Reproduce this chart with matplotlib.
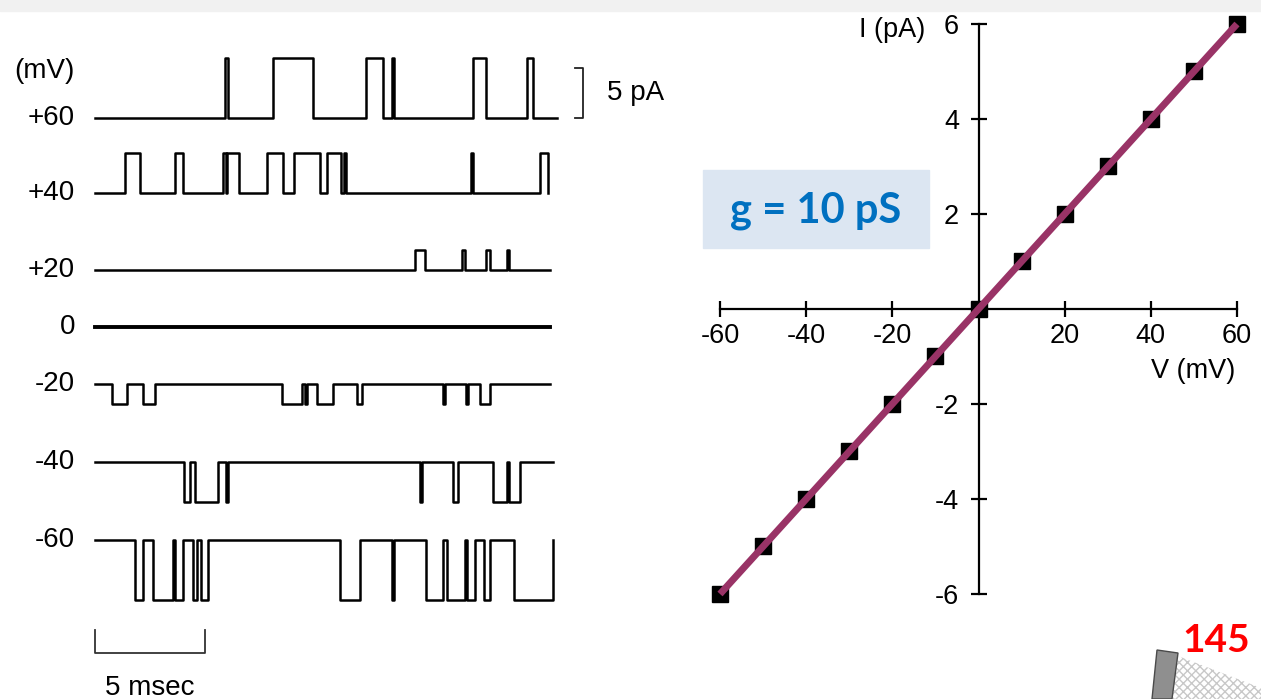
import numpy as np
import matplotlib.pyplot as plt
from matplotlib.patches import Rectangle, Polygon

plt.rcParams['font.family'] = ['Liberation Sans', 'DejaVu Sans']
plt.rcParams['axes.unicode_minus'] = False

W, H = 1261, 699

# single-channel traces: holding potential, label, unitary current (pA)
trace_labels = ['+60', '+40', '+20', '0', '-20', '-40', '-60']
unit_current = [6, 4, 2, 0, -2, -4, -6]
trace_end = [21.0, 20.6, 20.7, 20.7, 20.7, 20.8, 20.8]  # ms

# open intervals (start, end) in ms
open_60 = [(5.91, 6.05), (8.09, 9.91), (12.32, 13.09), (13.5, 13.59),
           (17.18, 17.77), (19.64, 19.91)]
open_40 = [(1.36, 2.05), (3.64, 4.0), (5.82, 5.95), (6.0, 6.55), (7.82, 8.55),
           (9.05, 10.23), (10.55, 11.18), (11.32, 11.41), (17.09, 17.18),
           (20.23, 20.6)]
open_20 = [(14.55, 15.0), (16.68, 16.82), (17.77, 17.95), (18.73, 18.82)]
open_0 = []
open_m20 = [(0.77, 1.45), (2.18, 2.73), (8.5, 9.41), (9.55, 9.64),
            (10.09, 10.82), (11.91, 12.14), (15.82, 15.91), (16.86, 16.95),
            (17.5, 17.95)]
open_m40 = [(4.05, 4.32), (4.55, 5.59), (5.95, 6.05), (14.77, 14.86),
            (16.27, 16.5), (18.09, 18.73), (18.82, 19.32)]
open_m60 = [(1.82, 2.18), (2.64, 3.55), (3.64, 4.0), (4.45, 4.64),
            (4.82, 5.14), (11.14, 12.05), (13.5, 13.59), (15.05, 15.82),
            (16.0, 16.82), (16.91, 17.27), (17.68, 17.95), (19.05, 20.8)]
openings = [open_60, open_40, open_20, open_0, open_m20, open_m40, open_m60]

# I-V relation
iv_voltage = [-60, -50, -40, -30, -20, -10, 0, 10, 20, 30, 40, 50, 60]
iv_current = [-6, -5, -4, -3, -2, -1, 0, 1, 2, 3, 4, 5, 6]


def step_trace(intervals, t_end, amp):
    t, y = [0.0], [0.0]
    for a, b in intervals:
        t += [a, a, b, b]
        y += [0, amp, amp, 0]
    t.append(t_end)
    y.append(0)
    return np.array(t), np.array(y)


fig = plt.figure(figsize=(W / 100, H / 100), dpi=100)

# faint scan band on top
fig.patches.append(Rectangle((0, 1 - 11 / H), 1, 11 / H, transform=fig.transFigure,
                             color='#f1f1f1', zorder=-5))

# ---- left: traces (x in ms, y in pA) ----
px2t = lambda px: (px - 95) / 22.0
py2i = lambda py: -(py - 118) / 10.0
axL = fig.add_axes([0, 0, 680 / W, 1])
axL.set_xlim(px2t(0), px2t(680))
axL.set_ylim(py2i(H), py2i(0))
axL.axis('off')

row_pix = [118, 193, 270, 327, 384, 462, 540]
for lab, amp, tend, ivs, rp in zip(trace_labels, unit_current, trace_end, openings, row_pix):
    base = py2i(rp)
    t, y = step_trace(ivs, tend, amp)
    axL.plot(t, base + y, color='black', lw=2.8 if amp == 0 else 1.8)
    axL.text(px2t(75), base, lab, ha='right', va='center', fontsize=20)

axL.text(px2t(75), py2i(71), '(mV)', ha='right', va='center', fontsize=20)

# 5 pA bar
axL.plot([px2t(575), px2t(583), px2t(583), px2t(575)], [5, 5, 0, 0],
         color='#222222', lw=1.3)
axL.text(px2t(607), 2.5, '5 pA', ha='left', va='center', fontsize=20)
# 5 msec bar
axL.plot([0, 0, 5, 5], [py2i(630), py2i(653), py2i(653), py2i(630)],
         color='#333333', lw=1.3)
axL.text(2.5, py2i(688), '5 msec', ha='center', va='center', fontsize=20)

# ---- right: I-V plot ----
axR = fig.add_axes([720 / W, 1 - 594 / H, (1237 - 720) / W, (594 - 24) / H])
axR.set_xlim(-60, 60)
axR.set_ylim(-6, 6)
axR.patch.set_alpha(0)
for s in ['top', 'right']:
    axR.spines[s].set_visible(False)
axR.spines['left'].set_position(('data', 0))
axR.spines['bottom'].set_position(('data', 0))
axR.spines['left'].set_linewidth(1.6)
axR.spines['bottom'].set_linewidth(1.6)
axR.set_xticks([-60, -40, -20, 20, 40, 60])
axR.set_yticks([-6, -4, -2, 2, 4, 6])
axR.tick_params(axis='both', direction='inout', length=12, width=1.6, labelsize=19.5)
axR.tick_params(axis='x', pad=4)
axR.tick_params(axis='y', pad=8)

axR.plot(iv_voltage, iv_current, 's', color='black', ms=11.5, clip_on=False, zorder=3)
axR.plot(iv_voltage, iv_current, color='#993366', lw=5, clip_on=False, zorder=4,
         solid_capstyle='butt')

axR.text(-12.3, 5.87, 'I (pA)', ha='right', va='center', fontsize=19.5)
axR.text(59.5, -1.3, 'V (mV)', ha='right', va='center', fontsize=19.5)

# conductance box
fig.patches.append(Rectangle((703 / W, 1 - 248 / H), 226 / W, 78 / H,
                             transform=fig.transFigure, color='#DCE6F2', zorder=1))
fig.text(816 / W, 1 - 211 / H, 'g = 10 pS', ha='center', va='center', fontsize=30,
         fontweight='bold', color='#0070C0', family=['Lato', 'DejaVu Sans'])

# page number and corner decoration
fig.text(1250 / W, 1 - 641 / H, '145', ha='right', va='center', fontsize=28,
         fontweight='bold', color='#ff0000', family=['Lato', 'DejaVu Sans'])
pts = lambda p: [(x / W, 1 - y / H) for x, y in p]
fig.patches.append(Polygon(pts([(1178, 656), (1261, 688), (1261, 699), (1172, 699)]),
                           transform=fig.transFigure, facecolor='white',
                           edgecolor='#c8c8c8', hatch='xxxx', lw=0))
fig.patches.append(Polygon(pts([(1157, 650), (1178, 653), (1172, 699), (1152, 699)]),
                           transform=fig.transFigure, facecolor='#8f8f8f',
                           edgecolor='#4a4a4a', lw=1))

fig.savefig('out.png', dpi=100)
